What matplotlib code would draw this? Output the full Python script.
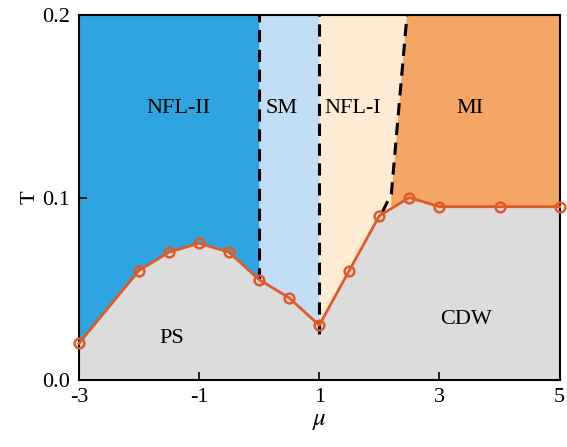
import numpy as np
import matplotlib.pyplot as plt

plt.rcParams['font.family'] = ['Liberation Serif', 'DejaVu Serif']
plt.rcParams['mathtext.fontset'] = 'stix'

# phase boundary (critical temperature vs chemical potential)
mu = [-3, -2, -1.5, -1, -0.5, 0, 0.5, 1, 1.5, 2, 2.5, 3, 4, 5]
Tc = [0.02, 0.06, 0.07, 0.075, 0.07, 0.055, 0.045, 0.03, 0.06, 0.09, 0.1, 0.095, 0.095, 0.095]

# dashed crossover lines
dash_sm_x = [0, 0]
dash_sm_y = [0.055, 0.2]
dash_nfl_x = [1, 1]
dash_nfl_y = [0.025, 0.2]
dash_mi_x = [2.05, 2.2, 2.46]
dash_mi_y = [0.092, 0.102, 0.2]

region_labels = ["NFL-II", "SM", "NFL-I", "MI", "PS", "CDW"]
label_x = [-1.35, 0.37, 1.55, 3.5, -1.45, 3.45]
label_y = [0.149, 0.149, 0.149, 0.149, 0.023, 0.033]

c_nfl2 = '#2ea5e0'
c_sm = '#c1def5'
c_nfl1 = '#fdebd3'
c_mi = '#f4a666'
c_gray = '#dcdcdc'
c_line = '#e05a26'

fig = plt.figure(figsize=(5.67, 4.47), dpi=100)
ax = fig.add_axes([0.139, 0.150, 0.848, 0.816])

mu_a = np.array(mu)
tc_a = np.array(Tc)

def curve(x):
    return np.interp(x, mu_a, tc_a)

# gray region below the boundary
ax.fill_between(mu_a, 0, tc_a, color=c_gray, lw=0)

# NFL-II
xs = np.linspace(-3, 0, 200)
ax.fill_between(xs, curve(xs), 0.2, color=c_nfl2, lw=0)
# SM
xs = np.linspace(0, 1, 200)
ax.fill_between(xs, curve(xs), 0.2, color=c_sm, lw=0)
# NFL-I
xs = np.linspace(1, 2.46, 300)
ax.fill_between(xs, curve(xs), 0.2, color=c_nfl1, lw=0)
# MI, right of the tilted dashed line
xs = np.linspace(2.2, 5, 300)
poly_x = np.concatenate([[2.2, 2.46, 5], xs[::-1]])
poly_y = np.concatenate([[0.1, 0.2, 0.2], curve(xs)[::-1]])
ax.fill(poly_x, poly_y, color=c_mi, lw=0)

ax.plot(dash_sm_x, dash_sm_y, 'k--', lw=2.2, dashes=(4, 2.5))
ax.plot(dash_nfl_x, dash_nfl_y, 'k--', lw=2.2, dashes=(4, 2.5))
ax.plot(dash_mi_x, dash_mi_y, 'k--', lw=2.2, dashes=(4, 2.5))

ax.plot(mu, Tc, '-o', color=c_line, lw=2, ms=7, mfc='none', mew=1.8,
        clip_on=False, zorder=5)

for lab, x, y in zip(region_labels, label_x, label_y):
    ax.text(x, y, lab, fontsize=16, ha='center', va='center')

ax.set_xlim(-3, 5)
ax.set_ylim(0, 0.2)
ax.set_xticks([-3, -1, 1, 3, 5])
ax.set_xticklabels(['-3', '-1', '1', '3', '5'])
ax.set_yticks([0, 0.1, 0.2])
ax.set_yticklabels(['0.0', '0.1', '0.2'])
ax.tick_params(direction='in', length=6, width=1.2, labelsize=16, pad=6)
for s in ax.spines.values():
    s.set_linewidth(1.5)
ax.set_xlabel(r'$\mu$', fontsize=18, labelpad=2)
ax.set_ylabel('T', fontsize=16, labelpad=2)

fig.savefig('out.png', dpi=100)
